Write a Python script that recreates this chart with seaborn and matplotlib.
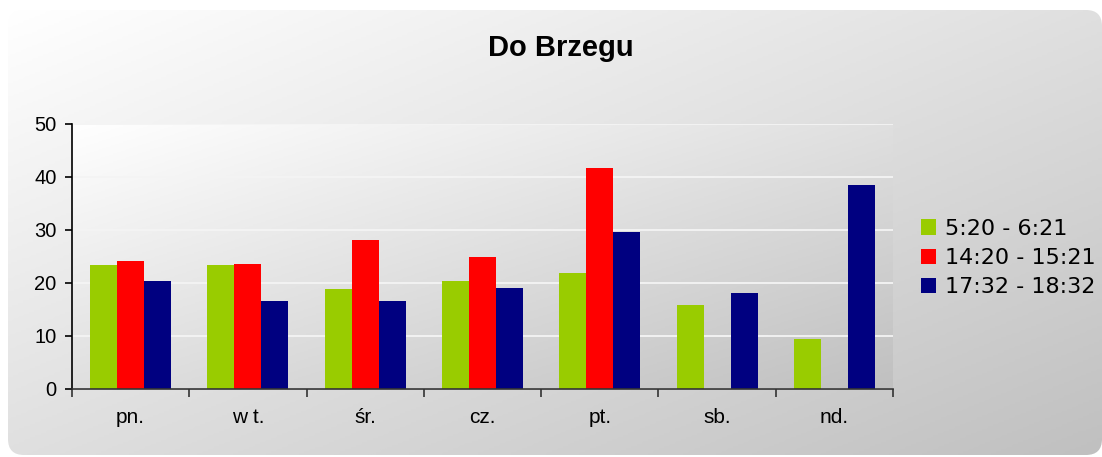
import numpy as np
import pandas as pd
import seaborn as sns
import matplotlib.pyplot as plt
from matplotlib.patches import FancyBboxPatch, Patch
from matplotlib.colors import LinearSegmentedColormap

# dane
days = ['pn.', 'w t.', 'śr.', 'cz.', 'pt.', 'sb.', 'nd.']
series = ['5:20 - 6:21', '14:20 - 15:21', '17:32 - 18:32']
rano = [23.4, 23.4, 18.9, 20.4, 21.9, 15.9, 9.5]
popoludnie = [24.1, 23.6, 28.1, 24.9, 41.7, 0, 0]
wieczor = [20.4, 16.6, 16.6, 19.1, 29.6, 18.1, 38.5]
colors = ['#99cc00', '#ff0000', '#000080']

df = pd.DataFrame({
    'dzien': days * 3,
    'kurs': [s for s in series for _ in days],
    'wartosc': rano + popoludnie + wieczor,
})

sns.set_style('white')
plt.rcParams['font.family'] = ['Liberation Sans', 'DejaVu Sans']
plt.rcParams['text.color'] = 'black'
plt.rcParams['xtick.color'] = 'black'
plt.rcParams['ytick.color'] = 'black'

W, H = 1102, 457
fig = plt.figure(figsize=(W / 100, H / 100), dpi=100)
fig.patch.set_facecolor('white')

szary = LinearSegmentedColormap.from_list('szary', ['#ffffff', '#c0c0c0'])
yy, xx = np.mgrid[0:1:200j, 0:1:400j]
grad = 0.5 * xx + 0.5 * yy

# tlo calego wykresu (zaokraglony prostokat z gradientem)
bg = fig.add_axes([0, 0, 1, 1], zorder=-10)
bg.set_xlim(0, W)
bg.set_ylim(H, 0)
bg.axis('off')
img = bg.imshow(grad, cmap=szary, vmin=0, vmax=1, extent=[8, W, 455, 10], aspect='auto')
box = FancyBboxPatch((8, 10), W - 8, 445, boxstyle='round,pad=0,rounding_size=16',
                     facecolor='none', edgecolor='none', transform=bg.transData)
bg.add_patch(box)
img.set_clip_path(box)

# obszar wykresu
pos = [72 / W, 1 - 389 / H, (893 - 72) / W, (389 - 123.7) / H]
bg2 = fig.add_axes(pos, zorder=-5)
bg2.axis('off')
bg2.imshow(grad, cmap=szary, vmin=0, vmax=1, extent=[0, 1, 0, 1], aspect='auto')

ax = fig.add_axes(pos)
ax.patch.set_alpha(0)
sns.barplot(data=df, x='dzien', y='wartosc', hue='kurs', palette=colors,
            width=0.69, saturation=1, linewidth=0, ax=ax, legend=False)

ax.set_ylim(0, 50)
ax.set_yticks(range(0, 51, 10))
ax.set_xlim(-0.5, 6.5)
ax.set_xlabel('')
ax.set_ylabel('')
ax.yaxis.grid(True, color='#f4f4f4', lw=1.3)
ax.set_axisbelow(True)
sns.despine(ax=ax)
ax.spines['left'].set_color('black')
ax.spines['bottom'].set_color('#333333')
ax.spines['left'].set_linewidth(1.2)
ax.spines['bottom'].set_linewidth(1.2)

ax.set_xticks(np.arange(-0.5, 7, 1), minor=True)
ax.tick_params(axis='x', which='major', length=0, pad=14, labelsize=15)
ax.tick_params(axis='x', which='minor', length=6, width=1.2, color='#333333', direction='out')
ax.tick_params(axis='y', length=5, width=1.2, color='black', direction='out', pad=6, labelsize=14.5)
ax.tick_params(left=True, bottom=True)
ax.xaxis.set_tick_params(which='minor', bottom=True)

fig.text(561 / W, 1 - 48 / H, 'Do Brzegu', ha='center', va='center',
         fontsize=21, fontweight='bold', color='black')

handles = [Patch(facecolor=c, edgecolor='none') for c in colors]
fig.legend(handles, series, loc='center left', bbox_to_anchor=(921 / W, 1 - 258 / H),
           frameon=False, borderpad=0, borderaxespad=0,
           handlelength=0.68, handleheight=0.68, handletextpad=0.4, labelspacing=0.42,
           prop={'family': 'DejaVu Sans', 'size': 16})

fig.savefig('out.png', dpi=100)
